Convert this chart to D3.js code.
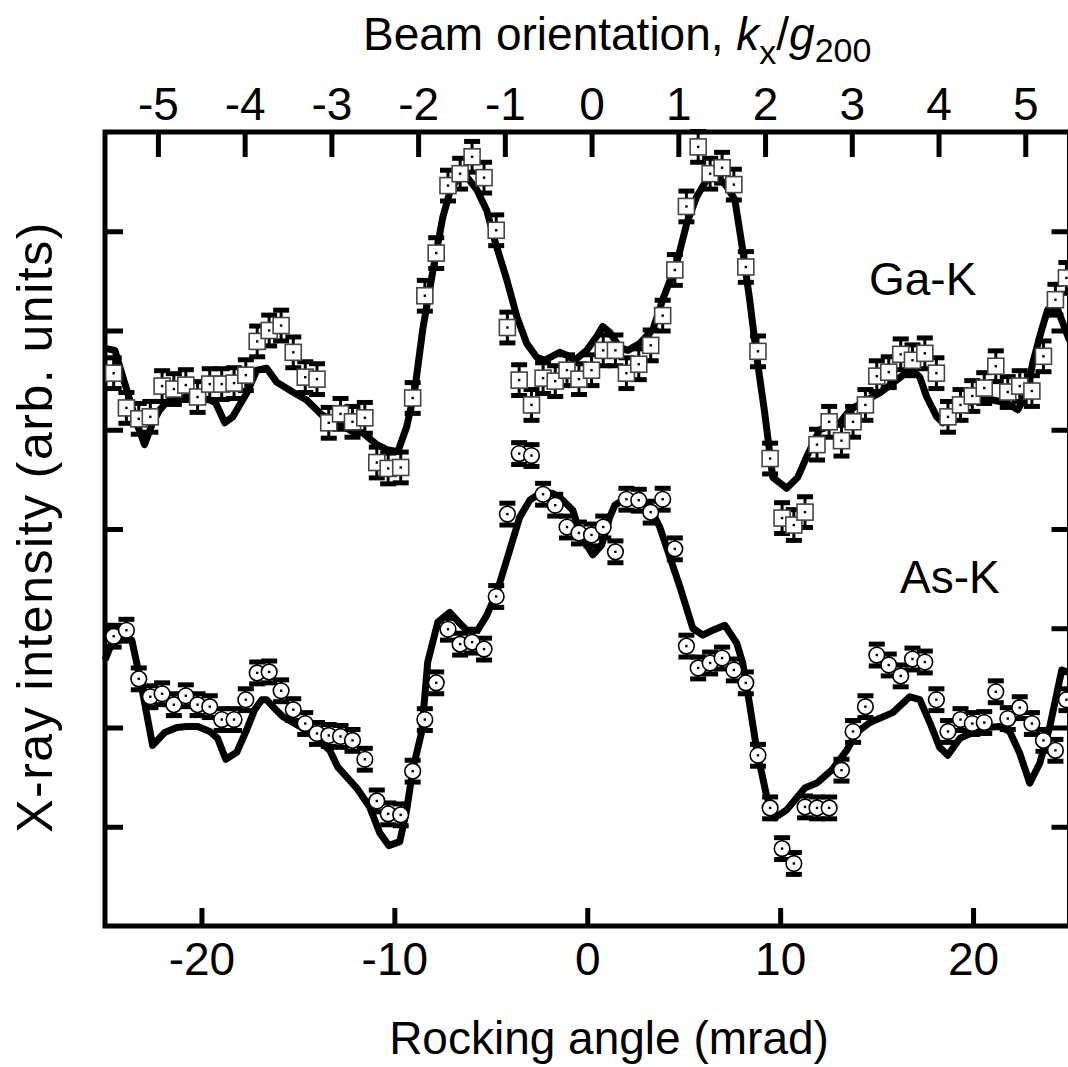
<!DOCTYPE html>
<html>
<head>
<meta charset="utf-8">
<script src="https://cdn.jsdelivr.net/npm/d3@7"></script>
<style>
  html, body { margin: 0; padding: 0; background: #fff; }
  svg { display: block; }
  text { font-family: "Liberation Sans", Arial, Helvetica, sans-serif; fill: #000; }
</style>
</head>
<body>
<svg id="chart" width="1068" height="1067"></svg>
<script>
// Rocking angle (mrad) of each measured point
const rockingAngle = [
  -24.55, -23.89, -23.25, -22.65, -22.04, -21.43, -20.81, -20.20, -19.57, -18.95,
  -18.31, -17.70, -17.11, -16.49, -15.87, -15.24, -14.62, -14.01, -13.40, -12.79,
  -12.17, -11.53, -10.91, -10.32, -9.67, -9.05, -8.42, -7.83, -7.22, -6.59,
  -5.97, -5.35, -4.72, -4.14, -3.53, -2.89, -2.29, -1.66, -1.05, -0.43,
  0.22, 0.83, 1.46, 2.03, 2.67, 3.29, 3.91, 4.54, 5.14, 5.75,
  6.37, 6.99, 7.60, 8.22, 8.85, 9.48, 10.10, 10.71, 11.29, 11.91,
  12.54, 13.18, 13.78, 14.42, 15.01, 15.63, 16.25, 16.86, 17.50, 18.10,
  18.70, 19.35, 19.96, 20.58, 21.18, 21.80, 22.42, 23.05, 23.65, 24.27, 24.84
];

// Measured Ga-K intensity (offset, arb. units)
const gaK = [
  5.57, 5.22, 5.11, 5.13, 5.44, 5.41, 5.45, 5.33, 5.46, 5.46,
  5.47, 5.55, 5.89, 6.00, 6.05, 5.78, 5.53, 5.51, 5.07, 5.16,
  5.08, 5.12, 4.67, 4.61, 4.62, 5.32, 6.35, 6.78, 7.46, 7.58,
  7.75, 7.54, 7.01, 6.03, 5.50, 5.25, 5.52, 5.49, 5.60, 5.51,
  5.60, 5.80, 5.80, 5.57, 5.66, 5.85, 6.15, 6.61, 7.25, 7.85,
  7.58, 7.64, 7.47, 6.64, 5.79, 4.71, 4.11, 4.04, 4.17, 4.85,
  5.08, 4.89, 5.08, 5.25, 5.54, 5.58, 5.76, 5.70, 5.77, 5.57,
  5.13, 5.25, 5.34, 5.42, 5.64, 5.38, 5.44, 5.39, 5.74, 6.31, 6.53
];

// Measured As-K intensity (arb. units)
const asK = [
  2.92, 2.98, 2.49, 2.31, 2.34, 2.23, 2.32, 2.23, 2.21, 2.08,
  2.08, 2.28, 2.55, 2.56, 2.37, 2.18, 2.04, 1.94, 1.92, 1.91,
  1.87, 1.68, 1.26, 1.13, 1.12, 1.56, 2.08, 2.45, 2.99, 2.84,
  2.86, 2.79, 3.32, 4.15, 4.76, 4.74, 4.35, 4.24, 4.02, 3.96,
  3.94, 4.02, 3.77, 4.30, 4.29, 4.17, 4.30, 3.80, 2.82, 2.60,
  2.65, 2.70, 2.58, 2.45, 1.72, 1.19, 0.78, 0.63, 1.20, 1.19,
  1.19, 1.57, 1.96, 2.21, 2.73, 2.63, 2.52, 2.69, 2.66, 2.28,
  1.96, 2.08, 2.04, 2.05, 2.36, 2.09, 2.20, 2.04, 1.87, 1.77, 2.28
];

// Half-length of the error bars
const gaKError = 0.155;
const asKError = 0.11;

// Calculated Ga-K profile
const gaFitAngle = [
  -25.0, -24.49, -23.98, -23.36, -22.95, -22.53, -22.16, -21.80, -21.13, -20.35,
  -19.57, -19.26, -18.79, -18.38, -17.65, -17.13, -16.62, -16.10, -15.27, -14.55,
  -13.77, -13.19, -12.16, -11.64, -10.91, -10.39, -9.82, -9.36, -8.94, -8.53,
  -8.01, -7.49, -7.13, -6.77, -6.25, -5.73, -5.21, -4.80, -4.17, -3.65,
  -3.14, -2.62, -2.20, -1.43, -1.06, -0.65, -0.03, 0.49, 0.80, 1.17,
  1.68, 2.10, 2.72, 3.40, 3.91, 4.64, 5.16, 5.68, 6.19, 6.61,
  7.23, 7.65, 8.06, 8.42, 8.79, 9.20, 9.62, 10.34, 10.91, 11.38,
  12.05, 13.09, 13.61, 14.49, 15.16, 15.84, 16.56, 16.87, 17.24, 17.60,
  18.12, 18.43, 18.95, 19.67, 20.35, 21.02, 21.75, 22.32, 22.78, 23.09,
  23.56, 23.87, 24.39, 25.0
];
const gaFit = [
  5.82, 5.80, 5.47, 5.07, 4.85, 5.07, 5.20, 5.28, 5.32, 5.33,
  5.30, 5.27, 5.07, 5.13, 5.37, 5.60, 5.62, 5.48, 5.38, 5.30,
  5.15, 5.10, 4.98, 4.97, 4.85, 4.80, 4.78, 5.03, 5.40, 6.01,
  6.59, 7.14, 7.39, 7.52, 7.55, 7.42, 7.21, 6.91, 6.51, 6.14,
  5.87, 5.73, 5.70, 5.78, 5.75, 5.70, 5.80, 5.94, 6.04, 5.98,
  5.83, 5.80, 5.87, 6.01, 6.31, 6.68, 7.08, 7.35, 7.52, 7.59,
  7.45, 7.32, 6.81, 6.31, 5.73, 5.17, 4.52, 4.41, 4.52, 4.73,
  5.00, 5.07, 5.20, 5.30, 5.37, 5.47, 5.58, 5.60, 5.53, 5.33,
  5.13, 5.07, 5.17, 5.27, 5.30, 5.30, 5.27, 5.20, 5.37, 5.67,
  6.01, 6.21, 6.21, 5.90
];

// Calculated As-K profile
const asFitAngle = [
  -25.0, -24.65, -23.98, -23.61, -23.20, -22.53, -21.90, -21.28, -20.76, -20.19,
  -19.57, -19.16, -18.74, -18.17, -17.65, -17.24, -16.87, -16.62, -16.30, -15.79,
  -14.90, -14.02, -13.35, -12.93, -11.95, -11.28, -10.76, -10.29, -9.72, -9.36,
  -9.05, -8.58, -8.27, -7.75, -7.13, -6.61, -6.25, -5.68, -5.21, -4.69,
  -4.17, -3.50, -2.98, -2.46, -1.79, -1.27, -0.75, -0.54, -0.03, 0.29,
  0.75, 1.17, 1.43, 1.84, 2.57, 3.24, 3.76, 4.28, 4.80, 5.47,
  5.99, 6.51, 7.13, 7.75, 8.06, 8.42, 8.79, 9.31, 9.72, 10.34,
  11.28, 11.90, 12.67, 13.45, 13.97, 14.65, 15.84, 16.72, 17.24, 17.76,
  18.27, 18.69, 19.31, 19.98, 20.71, 21.38, 21.90, 22.42, 22.94, 23.46,
  23.98, 24.60, 25.0
];
const asFit = [
  2.68, 2.85, 2.90, 2.88, 2.51, 1.82, 1.95, 2.00, 2.01, 2.01,
  1.96, 1.89, 1.68, 1.75, 1.98, 2.18, 2.28, 2.28, 2.21, 2.11,
  2.01, 1.89, 1.77, 1.60, 1.39, 1.20, 0.94, 0.81, 0.85, 1.17,
  1.57, 1.96, 2.66, 3.06, 3.16, 3.05, 2.98, 2.98, 3.13, 3.36,
  3.69, 4.12, 4.29, 4.36, 4.36, 4.29, 4.19, 4.06, 3.84, 3.74,
  3.84, 4.12, 4.24, 4.29, 4.29, 4.22, 4.02, 3.72, 3.42, 3.00,
  2.93, 2.98, 3.03, 2.85, 2.65, 2.23, 1.77, 1.30, 1.09, 1.17,
  1.39, 1.44, 1.57, 1.77, 1.95, 2.05, 2.15, 2.31, 2.28, 2.05,
  1.80, 1.72, 1.89, 1.95, 2.00, 2.01, 1.96, 1.74, 1.44, 1.64,
  2.01, 2.58, 2.55
];

// Tick values
const bottomTicks = [-20, -10, 0, 10, 20];
const topTicks = [-5, -4, -3, -2, -1, 0, 1, 2, 3, 4, 5];
const sideTicks = [1, 2, 3, 4, 5, 6, 7];
// k_x/g_200 span covered by the rocking-angle range
const topDomain = [-5.61, 5.51];

const svg = d3.select("#chart");
const plotLeft = 105, plotRight = 1069.5, plotTop = 132, plotBottom = 926;
const fontSize = 46;
const plainNumber = d => String(d);

const x = d3.scaleLinear().domain([-25, 25]).range([plotLeft, plotRight]);
const xTop = d3.scaleLinear().domain(topDomain).range([plotLeft, plotRight]);
const y = d3.scaleLinear().domain([0, 8]).range([plotBottom, plotTop]);

// Frame
svg.append("rect")
  .attr("x", plotLeft).attr("y", plotTop)
  .attr("width", plotRight - plotLeft).attr("height", plotBottom - plotTop)
  .attr("fill", "none").attr("stroke", "#000").attr("stroke-width", 5);

function styleAxis(g) {
  g.select(".domain").remove();
  g.selectAll(".tick line").attr("stroke", "#000").attr("stroke-width", 5);
  g.selectAll(".tick text")
    .attr("font-size", fontSize)
    .attr("font-family", "Liberation Sans, Arial, sans-serif")
    .attr("fill", "#000");
}

// Bottom axis: rocking angle
svg.append("g")
  .attr("transform", `translate(0,${plotBottom})`)
  .call(d3.axisBottom(x).tickValues(bottomTicks).tickSize(-18).tickPadding(16).tickFormat(plainNumber))
  .call(styleAxis);

// Top axis: beam orientation
svg.append("g")
  .attr("transform", `translate(0,${plotTop})`)
  .call(d3.axisTop(xTop).tickValues(topTicks).tickSize(-25).tickPadding(12).tickFormat(plainNumber))
  .call(styleAxis);

// Side ticks without labels
svg.append("g")
  .attr("transform", `translate(${plotLeft},0)`)
  .call(d3.axisLeft(y).tickValues(sideTicks).tickSize(-18).tickFormat(""))
  .call(styleAxis);
svg.append("g")
  .attr("transform", `translate(${plotRight},0)`)
  .call(d3.axisRight(y).tickValues(sideTicks).tickSize(-18).tickFormat(""))
  .call(styleAxis);

// Calculated profiles
const line = d3.line().x(d => x(d[0])).y(d => y(d[1]));
const fits = [d3.zip(gaFitAngle, gaFit), d3.zip(asFitAngle, asFit)];
svg.append("g").selectAll("path").data(fits).join("path")
  .attr("d", line)
  .attr("fill", "none").attr("stroke", "#000")
  .attr("stroke-width", 7).attr("stroke-linejoin", "round");

// Measured points with error bars
function drawSeries(values, err, shape) {
  const pts = d3.zip(rockingAngle, values);
  const g = svg.append("g");
  const eb = g.append("g").selectAll("g").data(pts).join("g");
  eb.append("line")
    .attr("x1", d => x(d[0])).attr("x2", d => x(d[0]))
    .attr("y1", d => y(d[1] - err)).attr("y2", d => y(d[1] + err))
    .attr("stroke", "#000").attr("stroke-width", 3);
  [-err, err].forEach(off => {
    eb.append("line")
      .attr("x1", d => x(d[0]) - 8).attr("x2", d => x(d[0]) + 8)
      .attr("y1", d => y(d[1] + off)).attr("y2", d => y(d[1] + off))
      .attr("stroke", "#000").attr("stroke-width", 5);
  });
  const m = g.append("g").selectAll("g").data(pts).join("g")
    .attr("transform", d => `translate(${x(d[0])},${y(d[1])})`);
  if (shape === "square") {
    m.append("rect")
      .attr("x", -8).attr("y", -8).attr("width", 16).attr("height", 16)
      .attr("fill", "#fff").attr("stroke", "#444").attr("stroke-width", 1.6);
  } else {
    m.append("circle")
      .attr("r", 7.8)
      .attr("fill", "#fff").attr("stroke", "#000").attr("stroke-width", 1.6);
  }
  m.append("rect")
    .attr("x", -1.2).attr("y", -1.2).attr("width", 2.4).attr("height", 2.4)
    .attr("fill", "#000");
}
drawSeries(gaK, gaKError, "square");
drawSeries(asK, asKError, "circle");

// Series labels
svg.append("text").attr("x", 869).attr("y", 295).attr("font-size", fontSize).text("Ga-K");
svg.append("text").attr("x", 900).attr("y", 593).attr("font-size", fontSize).text("As-K");

// Axis titles
svg.append("text")
  .attr("x", 609).attr("y", 1054)
  .attr("text-anchor", "middle").attr("font-size", fontSize)
  .text("Rocking angle (mrad)");

svg.append("text")
  .attr("transform", "translate(52,527) rotate(-90)")
  .attr("text-anchor", "middle").attr("font-size", 50)
  .attr("letter-spacing", 1.5)
  .text("X-ray intensity (arb. units)");

const topTitle = svg.append("text")
  .attr("x", 363).attr("y", 50).attr("font-size", fontSize);
topTitle.append("tspan").text("Beam orientation, ");
topTitle.append("tspan").attr("font-style", "italic").text("k");
topTitle.append("tspan").attr("font-size", 34).attr("dy", 14).text("x");
topTitle.append("tspan").attr("dy", -14).text("/");
topTitle.append("tspan").attr("font-style", "italic").text("g");
topTitle.append("tspan").attr("font-size", 34).attr("dy", 12).text("200");
</script>
</body>
</html>
